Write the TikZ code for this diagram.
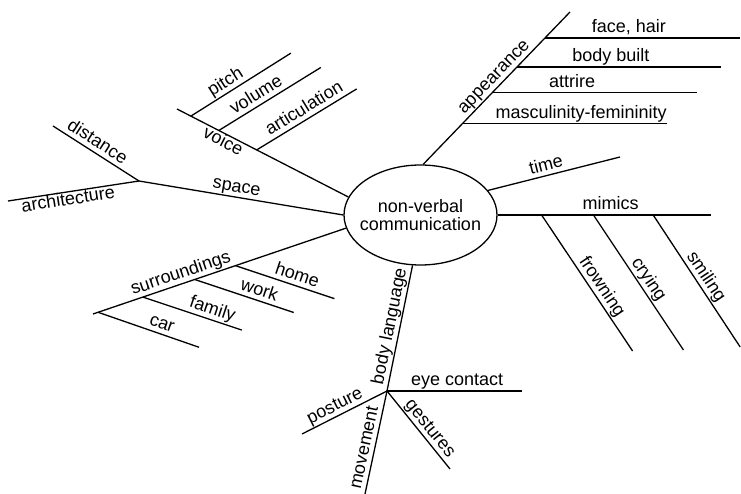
\documentclass[tikz,border=0pt]{standalone}
\usepackage{fontspec}
\setmainfont{Liberation Sans}
\usetikzlibrary{shapes.geometric, positioning}
\tikzset{%
  hub/.style={
    draw, ellipse,
    minimum width=153pt, minimum height=100pt,
    inner sep=0pt},
  lbl/.style={  % label on the upper side of a branch
    sloped, above,
    inner xsep=0pt, inner ysep=4.5pt,
    text depth=0pt},
  lblb/.style={ % label under a branch
    sloped, below,
    inner xsep=0pt, inner ysep=5pt,
    text height=1.45ex}
}

\begin{document}
\begin{tikzpicture}[x=1pt, y=-1pt, line width=1.3pt,
    font=\fontsize{18}{18.6}\selectfont]
    \useasboundingbox (0,0) rectangle (741,494);

    \node[hub] (nvc) at (420.5,215) {};
    \node[align=center] (nvcText) at (nvc) {non-verbal\\communication};

    % main branch ends
    \coordinate (appE) at (570,12);
    \coordinate (timeE) at (620,157);
    \coordinate (mimE) at (711,215);
    \coordinate (bodyJ) at (387,391);
    \coordinate (surE) at (93,314);
    \coordinate (spaceJ) at (139,181);
    \coordinate (voiceE) at (177,109);

    % appearance
    \draw (nvc.87) -- (appE)
      coordinate[pos=.27] (mascS) coordinate[pos=.47] (attrS)
      coordinate[pos=.64] (buildS) coordinate[pos=.83] (faceS)
      node[lbl, pos=.53] (appL) {appearance};
    \draw (faceS) -- ++(195,0) coordinate (faceE)
      node[lbl, pos=.43] (faceL) {face, hair};
    \draw (buildS) -- ++(204,0) coordinate (buildE)
      node[lbl, pos=.46] (buildL) {body built};
    \draw (attrS) -- ++(205,0) coordinate (attrE)
      node[lbl, pos=.39] (attrL) {attrire};
    \draw (mascS) -- ++(204,0) coordinate (mascE)
      node[lbl, pos=.58] (mascL) {masculinity-femininity};

    % time
    \draw (nvc.20) -- (timeE) node[lbl, pos=.46] (timeL) {time};

    % mimics
    \draw (nvc.east) -- (mimE)
      coordinate[pos=.206] (frownS) coordinate[pos=.449] (cryS)
      coordinate[pos=.729] (smileS)
      node[lbl, pos=.53] (mimL) {mimics};
    \draw (frownS) -- ++(91,136) coordinate (frownE)
      node[lbl, pos=.57] (frownL) {frowning};
    \draw (cryS) -- ++(90,135) coordinate (cryE)
      node[lbl, pos=.52] (cryL) {crying};
    \draw (smileS) -- ++(87,132) coordinate (smileE)
      node[lbl, pos=.51] (smileL) {smiling};

    % body language
    \draw (nvc.261) -- (bodyJ) node[lbl, pos=.5] (bodyL) {body language};
    \draw (bodyJ) -- ++(135,0) coordinate (eyeE)
      node[lbl, pos=.52] (eyeL) {eye contact};
    \draw (bodyJ) -- ++(63,78) coordinate (gestE)
      node[lbl, pos=.56] (gestL) {gestures};
    \draw (bodyJ) -- ++(-22,103) coordinate (moveE)
      node[lbl, pos=.57] (moveL) {movement};
    \draw (bodyJ) -- ++(-85,43) coordinate (postE)
      node[lbl, pos=.56] (postL) {posture};

    % surroundings
    \draw (nvc.190) -- (surE)
      coordinate[pos=.437] (homeS) coordinate[pos=.598] (workS)
      coordinate[pos=.803] (famS) coordinate[pos=.98] (carS)
      node[lbl, pos=.64] (surL) {surroundings};
    \draw (homeS) -- ++(99,33) coordinate (homeE)
      node[lbl, pos=.59] (homeL) {home};
    \draw (workS) -- ++(99,33) coordinate (workE)
      node[lbl, pos=.62] (workL) {work};
    \draw (famS) -- ++(99,33) coordinate (famE)
      node[lbl, pos=.67] (famL) {family};
    \draw (carS) -- ++(101,35) coordinate (carE)
      node[lbl, pos=.6] (carL) {car};

    % space
    \draw (nvc.west) -- (spaceJ) node[lbl, pos=.53] (spaceL) {space};
    \draw (spaceJ) -- ++(-86,-55) coordinate (distE)
      node[lbl, pos=.55] (distL) {distance};
    \draw (spaceJ) -- ++(-131,20) coordinate (archE)
      node[lblb, pos=.55] (archL) {architecture};

    % voice
    \draw (nvc.166) -- (voiceE)
      coordinate[pos=.535] (artS) coordinate[pos=.756] (volS)
      coordinate[pos=.919] (pitchS)
      node[lblb, pos=.71] (voiceL) {voice};
    \draw (pitchS) -- ++(100,-63) coordinate (pitchE)
      node[lbl, pos=.4] (pitchL) {pitch};
    \draw (volS) -- ++(102,-63) coordinate (volE)
      node[lbl, pos=.42] (volL) {volume};
    \draw (artS) -- ++(100,-61) coordinate (artE)
      node[lbl, pos=.53] (artL) {articulation};
\end{tikzpicture}
\end{document}
